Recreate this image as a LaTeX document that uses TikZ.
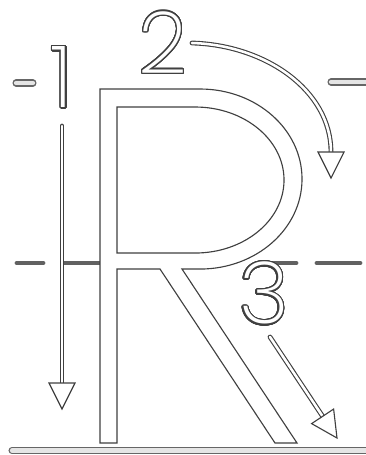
\documentclass[tikz,border=0pt]{standalone}
\usepackage{fontspec}
\usepackage{contour}
\usetikzlibrary{calc}
\newfontfamily\digitfont{Poppins ExtraLight}
\contourlength{0.9pt}
\contournumber{32}
\colorlet{inkgray}{black!75}
\colorlet{guidegray}{black!62}
\tikzset{
  letter/.style={draw=inkgray, line width=0.8pt, fill=white, line join=miter},
  hollow/.style={draw=inkgray, line width=0.8pt, double=white, double distance=1.8pt, line cap=round},
  tipbox/.style={draw=inkgray, line width=0.8pt, fill=white, line join=miter},
  guide/.style={draw=guidegray, line width=3.4pt, line cap=round},
  rulebar/.style={draw=black!60, line width=1pt, double=black!10, double distance=3pt, line cap=round},
  digit/.style={inner sep=0pt, font=\digitfont\fontsize{61}{61}\selectfont}
}
\newcommand\hollowdigit[1]{{\color{white}\contour{inkgray}{#1}}}

\begin{document}
\begin{tikzpicture}[x=0.025cm, y=-0.025cm]
    \useasboundingbox (0,0) rectangle (366,455);

    \draw[rulebar] (16,83) -- (33,83);
    \draw[rulebar] (331,82) -- (380,82);
    \draw[rulebar] (12,450.5) -- (380,450.5);

    \draw[guide] (17,263) -- (43,263);
    \draw[guide, line width=2.8pt] (63,263) -- (100,263);
    \draw[guide] (264,263) -- (296,263);
    \draw[guide] (317,263) -- (360,263);

    \draw[letter] (100,443) -- (100,89) -- (200,89)
      arc[start angle=90, end angle=-90, x radius=2.55cm, y radius=2.25cm]
      -- (182,269) -- (297,443) -- (275,443) -- (160,269) -- (117,269) -- (117,443) -- cycle;
    \draw[letter] (117,107) -- (195,107)
      arc[start angle=90, end angle=-90, x radius=2.225cm, y radius=1.825cm]
      -- (117,253) -- cycle;

    \node[digit] (one) at (62,78) {\hollowdigit{1}};
    \node[digit] (two) at (163,43) {\hollowdigit{2}};
    \node[digit] (three) at (264,294) {\hollowdigit{3}};

    \coordinate (s1) at (62,126);
    \coordinate (e1) at (62,383);
    \draw[hollow] (s1) -- (e1);
    \draw[tipbox] ($(e1)+(-13,0)$) -- ($(e1)+(13,0)$) -- ($(e1)+(0,26)$) -- cycle;

    \coordinate (s2) at (192,43);
    \coordinate (e2) at (331,152);
    \draw[hollow] (s2) .. controls (265,45) and (331,90) .. (e2);
    \draw[tipbox] ($(e2)+(-13,0)$) -- ($(e2)+(13,0)$) -- ($(e2)+(0,26)$) -- cycle;

    \coordinate (s3) at (270,337);
    \coordinate (t3) at (337,438);
    \coordinate (e3) at ($(t3)!0.65cm!(s3)$);
    \draw[hollow] (s3) -- (e3);
    \draw[tipbox] ($(e3)!0.33cm!90:(t3)$) -- ($(e3)!0.33cm!-90:(t3)$) -- (t3) -- cycle;
  \end{tikzpicture}
\end{document}
